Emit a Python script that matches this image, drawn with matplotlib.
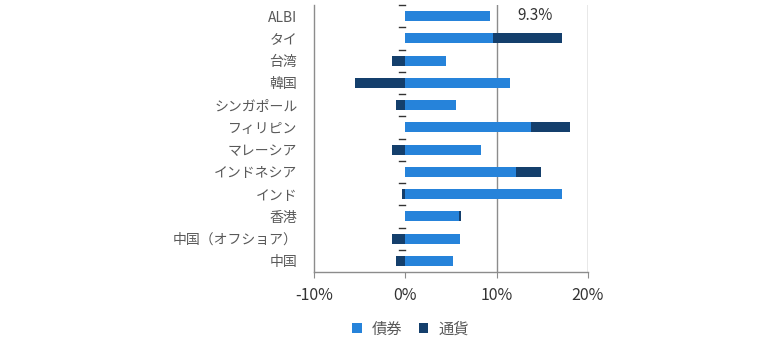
import matplotlib
matplotlib.use("Agg")
import matplotlib.pyplot as plt
import numpy as np

plt.rcParams['font.family'] = ['Noto Sans CJK JP', 'DejaVu Sans']

categories = ["ALBI", "タイ", "台湾", "韓国", "シンガポール", "フィリピン", "マレーシア",
              "インドネシア", "インド", "香港", "中国（オフショア）", "中国"]
bond = [9.3, 9.6, 4.45, 11.45, 5.6, 13.8, 8.3, 12.1, 17.2, 5.85, 6.0, 5.25]
currency = [0.0, 7.5, -1.5, -5.5, -1.0, 4.2, -1.5, 2.75, -0.4, 0.2, -1.5, -1.0]
xticks = [-10, 0, 10, 20]
series_names = ["債券", "通貨"]

c_bond = "#2683DA"
c_cur = "#143F6C"
grid_c = "#8C8C8C"

fig = plt.figure(figsize=(7.8, 3.42), dpi=100)
ax = fig.add_axes([314/780, 1-272/342, (588-314)/780, (272-5)/342])

y = np.arange(len(categories))
bond_a = np.array(bond)
cur_a = np.array(currency)
cur_left = np.where(cur_a > 0, bond_a, 0)
h = 0.45
ax.barh(y, bond_a, height=h, color=c_bond, label=series_names[0], zorder=3)
ax.barh(y, cur_a, left=cur_left, height=h, color=c_cur, label=series_names[1], zorder=3)

ax.set_xlim(-10, 20)
ax.set_ylim(len(categories) - 0.5, -0.5)
ax.set_xticks(xticks)
ax.set_xticklabels([f"{t}%" for t in xticks], fontsize=11.5, color="#333333")
ax.tick_params(axis='x', length=4, color=grid_c, pad=7)

for t in xticks[2:]:
    ax.axvline(t, color=grid_c, lw=1, zorder=1)

ax.set_yticks(y)
ax.set_yticklabels(categories, fontsize=10, color="#595959")
ax.tick_params(axis='y', length=0, pad=12)

# small ticks at zero line between categories
for b in np.arange(len(categories)) - 0.5:
    ax.plot([-0.7, 0], [b, b], color="#333333", lw=1, zorder=2, clip_on=False)

for s in ['top', 'right']:
    ax.spines[s].set_visible(False)
for s in ['left', 'bottom']:
    ax.spines[s].set_color(grid_c)
    ax.spines[s].set_linewidth(1)

total0 = bond[0] + currency[0]
ax.text(14.2, -0.05, f"{total0:.1f}%", fontsize=11, color="#333333",
        ha='center', va='center', zorder=4)

fig.legend(loc='center', bbox_to_anchor=(410.5/780, 1-329/342), ncol=2, frameon=False,
           handlelength=0.65, handleheight=0.65, handletextpad=0.65, columnspacing=1.05,
           fontsize=11, labelcolor="#595959")

fig.savefig("out.png", dpi=100)
